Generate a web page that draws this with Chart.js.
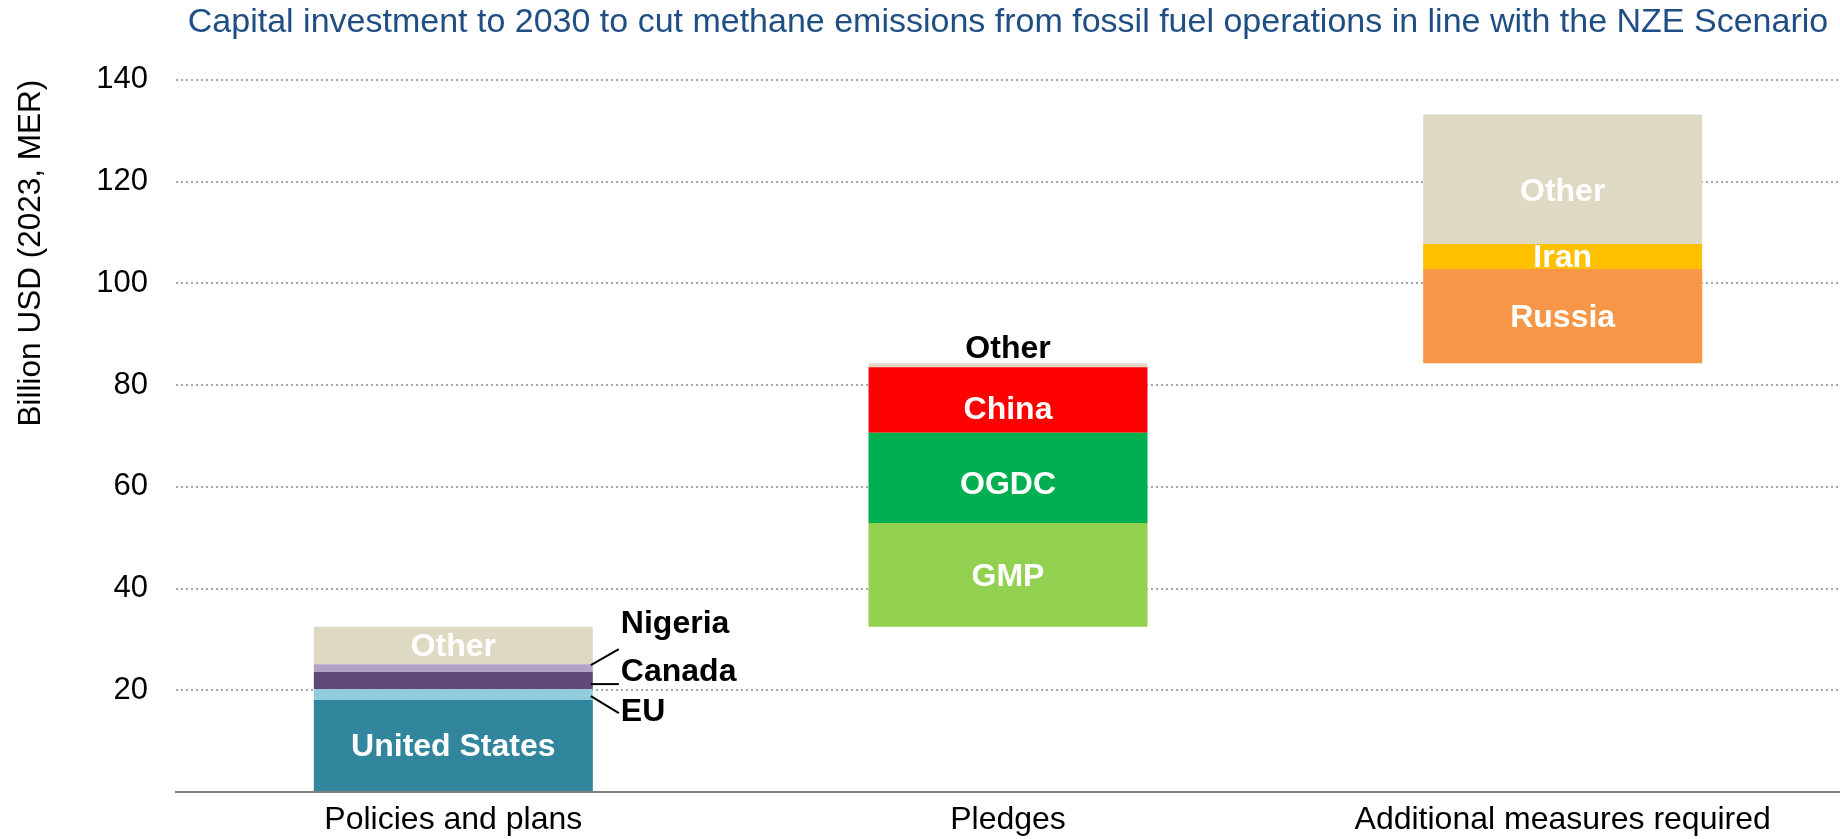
<!DOCTYPE html>
<html>
<head>
<meta charset="utf-8">
<script src="https://cdn.jsdelivr.net/npm/chart.js@4.4.1/dist/chart.umd.min.js"></script>
<style>
html,body{margin:0;padding:0;background:#fff;overflow:hidden}
#wrap{width:1840px;height:839px;position:relative}
</style>
</head>
<body>
<div id="wrap"><canvas id="c"></canvas></div>
<script>
// ---- Data ----
const titleText = 'Capital investment to 2030 to cut methane emissions from fossil fuel operations in line with the NZE Scenario';
const yAxisTitle = 'Billion USD (2023, MER)';
const categories = ['Policies and plans', 'Pledges', 'Additional measures required'];

const policiesLabels = ['United States', 'EU', 'Canada', 'Nigeria', 'Other'];
const policiesValues = [18.1, 2.1, 3.4, 1.5, 7.4];

const pledgesLabels = ['GMP', 'OGDC', 'China', 'Other'];
const pledgesValues = [20.4, 17.7, 12.9, 0.8];

const additionalLabels = ['Russia', 'Iran', 'Other'];
const additionalValues = [18.5, 4.9, 25.5];

const yMin = 0, yMax = 140, yStep = 20;

// ---- Styles ----
const policiesColors = ['#31859C', '#93CDDD', '#604A7B', '#B3A2C7', '#DDD9C3'];
const pledgesColors = ['#92D050', '#00B050', '#FF0000', '#DDD9C3'];
const additionalColors = ['#F79646', '#FFC000', '#DDD9C3'];

const FONT = "'Liberation Sans', Arial, Helvetica, sans-serif";

// label placement styles (pixel offsets relative to segment)
const labelStyles = {
  '0|Nigeria': {mode: 'right', lineDy0: -3, lineDy1: -19, textDy: -44},
  '0|Canada':  {mode: 'right', lineDy0: 3.5, lineDy1: 3.5, textDy: -8},
  '0|EU':      {mode: 'right', lineDy0: 1.5, lineDy1: 18.5, textDy: 18},
  '1|Other':   {mode: 'above', textDy: -14},
  '1|OGDC':    {mode: 'inside', dy: 5},
  '1|China':   {mode: 'inside', dy: 8},
  '2|Other':   {mode: 'inside', dy: 11}
};

// ---- Build datasets (waterfall: each column starts at the previous column's total) ----
const groups = [
  {labels: policiesLabels, values: policiesValues, colors: policiesColors},
  {labels: pledgesLabels, values: pledgesValues, colors: pledgesColors},
  {labels: additionalLabels, values: additionalValues, colors: additionalColors}
];
const datasets = [];
let running = 0;
groups.forEach((g, ci) => {
  g.values.forEach((v, k) => {
    const data = categories.map(() => null);
    data[ci] = [running, running + v];
    running += v;
    datasets.push({
      label: g.labels[k],
      data: data,
      backgroundColor: g.colors[k],
      borderWidth: 0,
      labelStyle: labelStyles[ci + '|' + g.labels[k]] || {mode: 'inside'}
    });
  });
});

const segmentLabels = {
  id: 'segmentLabels',
  afterDatasetsDraw(chart) {
    const ctx = chart.ctx;
    ctx.save();
    ctx.font = 'bold 32px ' + FONT;
    chart.data.datasets.forEach((ds, di) => {
      const meta = chart.getDatasetMeta(di);
      meta.data.forEach((bar, i) => {
        if (ds.data[i] == null) return;
        const p = bar.getProps(['x', 'y', 'base', 'width'], true);
        const top = Math.min(p.y, p.base), bottom = Math.max(p.y, p.base);
        const mid = (top + bottom) / 2;
        const right = p.x + p.width / 2;
        const st = ds.labelStyle;
        ctx.textBaseline = 'middle';
        if (st.mode === 'inside') {
          ctx.fillStyle = '#FFFFFF';
          ctx.textAlign = 'center';
          ctx.fillText(ds.label, p.x, mid + 2 + (st.dy || 0));
        } else if (st.mode === 'above') {
          ctx.fillStyle = '#000000';
          ctx.textAlign = 'center';
          ctx.fillText(ds.label, p.x, top + st.textDy);
        } else if (st.mode === 'right') {
          ctx.strokeStyle = '#000000';
          ctx.lineWidth = 2;
          ctx.beginPath();
          ctx.moveTo(right - 2, mid + st.lineDy0);
          ctx.lineTo(right + 26, mid + st.lineDy1);
          ctx.stroke();
          ctx.fillStyle = '#000000';
          ctx.textAlign = 'left';
          ctx.fillText(ds.label, right + 28, mid + st.textDy);
        }
      });
    });
    ctx.restore();
  }
};

new Chart(document.getElementById('c'), {
  type: 'bar',
  data: {labels: categories, datasets: datasets},
  options: {
    responsive: true,
    maintainAspectRatio: false,
    animation: false,
    devicePixelRatio: 1,
    layout: {padding: 0},
    datasets: {bar: {grouped: false, barPercentage: 0.503, categoryPercentage: 1}},
    plugins: {
      legend: {display: false},
      tooltip: {enabled: false},
      title: {
        display: true,
        text: titleText,
        color: '#1F4E85',
        fullSize: false,
        font: {family: FONT, size: 34, weight: 'normal'},
        padding: {top: 2, bottom: 37}
      }
    },
    scales: {
      x: {
        z: 1,
        grid: {display: false, drawTicks: false},
        border: {display: true, color: '#808080', width: 2},
        ticks: {color: '#000', font: {family: FONT, size: 32}, padding: 9},
        afterFit(s) { s.height = 47; }
      },
      y: {
        min: yMin, max: yMax,
        ticks: {stepSize: yStep, color: '#000', font: {family: FONT, size: 31}, padding: 28,
          callback: v => v === 0 ? '' : v},
        grid: {color: c => (c.tick && c.tick.value === 0) ? 'rgba(0,0,0,0)' : '#A6A6A6', lineWidth: 2, drawTicks: false},
        border: {display: false, dash: [2, 3]},
        title: {display: true, text: yAxisTitle, align: 'end', color: '#000',
          font: {family: FONT, size: 31.5}, padding: {top: 12, bottom: 0}},
        afterFit(s) { s.width = 176; }
      }
    }
  },
  plugins: [segmentLabels]
});
</script>
</body>
</html>
